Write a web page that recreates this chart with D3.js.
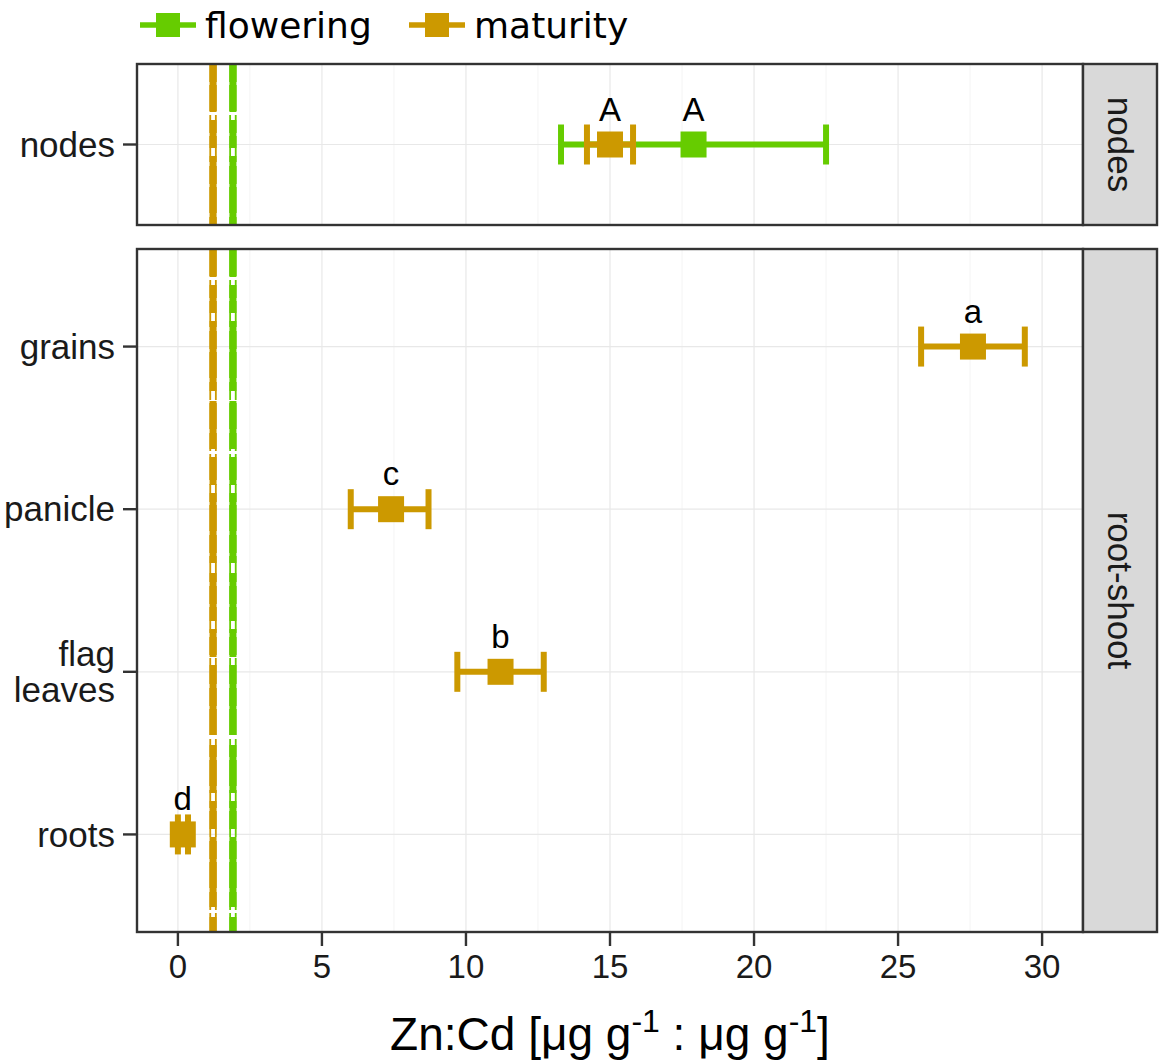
<!DOCTYPE html>
<html>
<head>
<meta charset="utf-8">
<script src="https://cdn.jsdelivr.net/npm/d3@7"></script>
<style>
  body { margin: 0; background: #fff; }
  text { font-family: "Liberation Sans", Arial, sans-serif; }
</style>
</head>
<body>
<svg id="chart"></svg>
<script>
// data
let panels = ['nodes', 'root-shoot'];
let nodeTissues = ['nodes'];
let shootTissues = ['grains', 'panicle', 'flag leaves', 'roots'];
let stages = ['flowering', 'maturity'];
let stageColors = ['#66cc00', '#cc9900'];

// rows: panel, tissue, stage, mean, lower, upper, letter
let rowPanel  = ['nodes', 'nodes', 'root-shoot', 'root-shoot', 'root-shoot', 'root-shoot'];
let rowTissue = ['nodes', 'nodes', 'grains', 'panicle', 'flag leaves', 'roots'];
let rowStage  = ['flowering', 'maturity', 'maturity', 'maturity', 'maturity', 'maturity'];
let rowMean   = [17.9, 15.0, 27.6, 7.4, 11.2, 0.17];
let rowLow    = [13.3, 14.2, 25.8, 6.0, 9.7, 0.0];
let rowHigh   = [22.5, 15.8, 29.4, 8.7, 12.7, 0.35];
let rowLetter = ['A', 'A', 'a', 'c', 'b', 'd'];

// reference lines per stage
let refStage = ['flowering', 'maturity'];
let refValue = [1.91, 1.22];

let xTicks = [0, 5, 10, 15, 20, 25, 30];
let xMinor = [2.5, 7.5, 12.5, 17.5, 22.5, 27.5];

let svgWidth = 1165, svgHeight = 1062;
let left = 137, right = 1083, stripW = 74;

let svg = d3.select('#chart')
            .attr('width', svgWidth)
            .attr('height', svgHeight);

let x = d3.scaleLinear().domain([-1.42, 31.42]).range([left, right]);
let color = d3.scaleOrdinal().domain(stages).range(stageColors);

let panelBox = {
  'nodes': {top: 64, bottom: 225, cats: nodeTissues},
  'root-shoot': {top: 249, bottom: 932, cats: shootTissues}
};

let rows = rowMean.map((m, i) => ({
  panel: rowPanel[i], tissue: rowTissue[i], stage: rowStage[i],
  mean: m, low: rowLow[i], high: rowHigh[i], letter: rowLetter[i]
}));

// line styles that make up each overlapped reference line
let refLayers = [
  {w: 7, off: 0, dash: '48,8,28,8,70,10'},
  {w: 1.8, off: -2.8, dash: '18,3,26,4'},
  {w: 1.8, off: 2.8, dash: '18,3,26,4'}
];

panels.forEach(p => {
  let box = panelBox[p];
  let n = box.cats.length;
  let y = d3.scaleLinear()
            .domain([0.4, n + 0.6])
            .range([box.top, box.bottom]);
  let yPos = c => y(box.cats.indexOf(c) + 1);

  let g = svg.append('g');

  // grid
  g.selectAll('.minor').data(xMinor).enter().append('line')
   .attr('x1', d => x(d)).attr('x2', d => x(d))
   .attr('y1', box.top).attr('y2', box.bottom)
   .attr('stroke', '#f4f4f4').attr('stroke-width', 1);
  g.selectAll('.major').data(xTicks).enter().append('line')
   .attr('x1', d => x(d)).attr('x2', d => x(d))
   .attr('y1', box.top).attr('y2', box.bottom)
   .attr('stroke', '#e8e8e8').attr('stroke-width', 1.2);
  g.selectAll('.hgrid').data(box.cats).enter().append('line')
   .attr('x1', left).attr('x2', right)
   .attr('y1', d => yPos(d)).attr('y2', d => yPos(d))
   .attr('stroke', '#e8e8e8').attr('stroke-width', 1.2);

  // reference lines
  refValue.forEach((v, i) => {
    refLayers.forEach(l => {
      g.append('line')
       .attr('x1', x(v) + l.off).attr('x2', x(v) + l.off)
       .attr('y1', box.top).attr('y2', box.bottom)
       .attr('stroke', color(refStage[i]))
       .attr('stroke-width', l.w)
       .attr('stroke-dasharray', l.dash)
       .attr('stroke-dashoffset', p === 'nodes' ? 0 : 20);
    });
  });

  // error bars and points
  let pr = rows.filter(r => r.panel === p);
  let capH = 20;
  pr.forEach(r => {
    let cy = yPos(r.tissue), c = color(r.stage);
    g.append('line')
     .attr('x1', x(r.low)).attr('x2', x(r.high))
     .attr('y1', cy).attr('y2', cy)
     .attr('stroke', c).attr('stroke-width', 6);
    [r.low, r.high].forEach(v => {
      g.append('line')
       .attr('x1', x(v)).attr('x2', x(v))
       .attr('y1', cy - capH).attr('y2', cy + capH)
       .attr('stroke', c).attr('stroke-width', 6);
    });
  });
  pr.forEach(r => {
    let cy = yPos(r.tissue);
    g.append('rect')
     .attr('x', x(r.mean) - 13).attr('y', cy - 13)
     .attr('width', 26).attr('height', 26)
     .attr('fill', color(r.stage));
    g.append('text')
     .attr('x', x(r.mean)).attr('y', cy - 24)
     .attr('text-anchor', 'middle')
     .attr('font-size', 33)
     .text(r.letter);
  });

  // panel border
  g.append('rect')
   .attr('x', left).attr('y', box.top)
   .attr('width', right - left).attr('height', box.bottom - box.top)
   .attr('fill', 'none').attr('stroke', '#333').attr('stroke-width', 2.4);

  // strip
  g.append('rect')
   .attr('x', right).attr('y', box.top)
   .attr('width', stripW).attr('height', box.bottom - box.top)
   .attr('fill', '#d9d9d9').attr('stroke', '#333').attr('stroke-width', 2.4);
  let sx = right + stripW / 2, sy = (box.top + box.bottom) / 2;
  g.append('text')
   .attr('transform', 'translate(' + sx + ',' + sy + ') rotate(90)')
   .attr('text-anchor', 'middle')
   .attr('dy', '0.35em')
   .attr('font-size', 35)
   .attr('fill', '#1a1a1a')
   .text(p);

  // y axis
  let ya = g.append('g');
  box.cats.forEach(c => {
    let cy = yPos(c);
    ya.append('line')
      .attr('x1', left - 14).attr('x2', left)
      .attr('y1', cy).attr('y2', cy)
      .attr('stroke', '#333').attr('stroke-width', 2.4);
    let t = ya.append('text')
      .attr('x', left - 22).attr('y', cy)
      .attr('text-anchor', 'end')
      .attr('font-size', 35)
      .attr('fill', '#1a1a1a');
    let parts = c.split(' ');
    parts.forEach((w, k) => {
      t.append('tspan')
       .attr('x', left - 22)
       .attr('dy', k === 0 ? (0.35 - (parts.length - 1) * 0.52) + 'em' : '1.04em')
       .text(w);
    });
  });
});

// x axis
let bottom = panelBox['root-shoot'].bottom;
let xa = svg.append('g');
xTicks.forEach(t => {
  xa.append('line')
    .attr('x1', x(t)).attr('x2', x(t))
    .attr('y1', bottom).attr('y2', bottom + 14)
    .attr('stroke', '#333').attr('stroke-width', 2.4);
  xa.append('text')
    .attr('x', x(t)).attr('y', bottom + 46)
    .attr('text-anchor', 'middle')
    .attr('font-size', 33)
    .attr('fill', '#1a1a1a')
    .text(t);
});

let title = svg.append('text')
  .attr('x', (left + right) / 2).attr('y', 1050)
  .attr('text-anchor', 'middle')
  .attr('font-size', 46);
title.append('tspan').text('Zn:Cd [\u03bcg g');
title.append('tspan').attr('font-size', 32).attr('dy', -18).text('-1');
title.append('tspan').attr('dy', 18).text(' : \u03bcg g');
title.append('tspan').attr('font-size', 32).attr('dy', -18).text('-1');
title.append('tspan').attr('dy', 18).text(']');

// legend
let legendX = [140, 409];
stages.forEach((s, i) => {
  let lg = svg.append('g').attr('transform', 'translate(' + legendX[i] + ',25)');
  lg.append('line')
    .attr('x1', 0).attr('x2', 56).attr('y1', 0).attr('y2', 0)
    .attr('stroke', color(s)).attr('stroke-width', 5.5);
  lg.append('rect')
    .attr('x', 16).attr('y', -12).attr('width', 24).attr('height', 24)
    .attr('fill', color(s));
  lg.append('text')
    .attr('x', 65).attr('y', 0).attr('dy', '0.35em')
    .attr('font-size', 36)
    .style('font-family', '"DejaVu Sans", sans-serif')
    .text(s);
});
</script>
</body>
</html>
